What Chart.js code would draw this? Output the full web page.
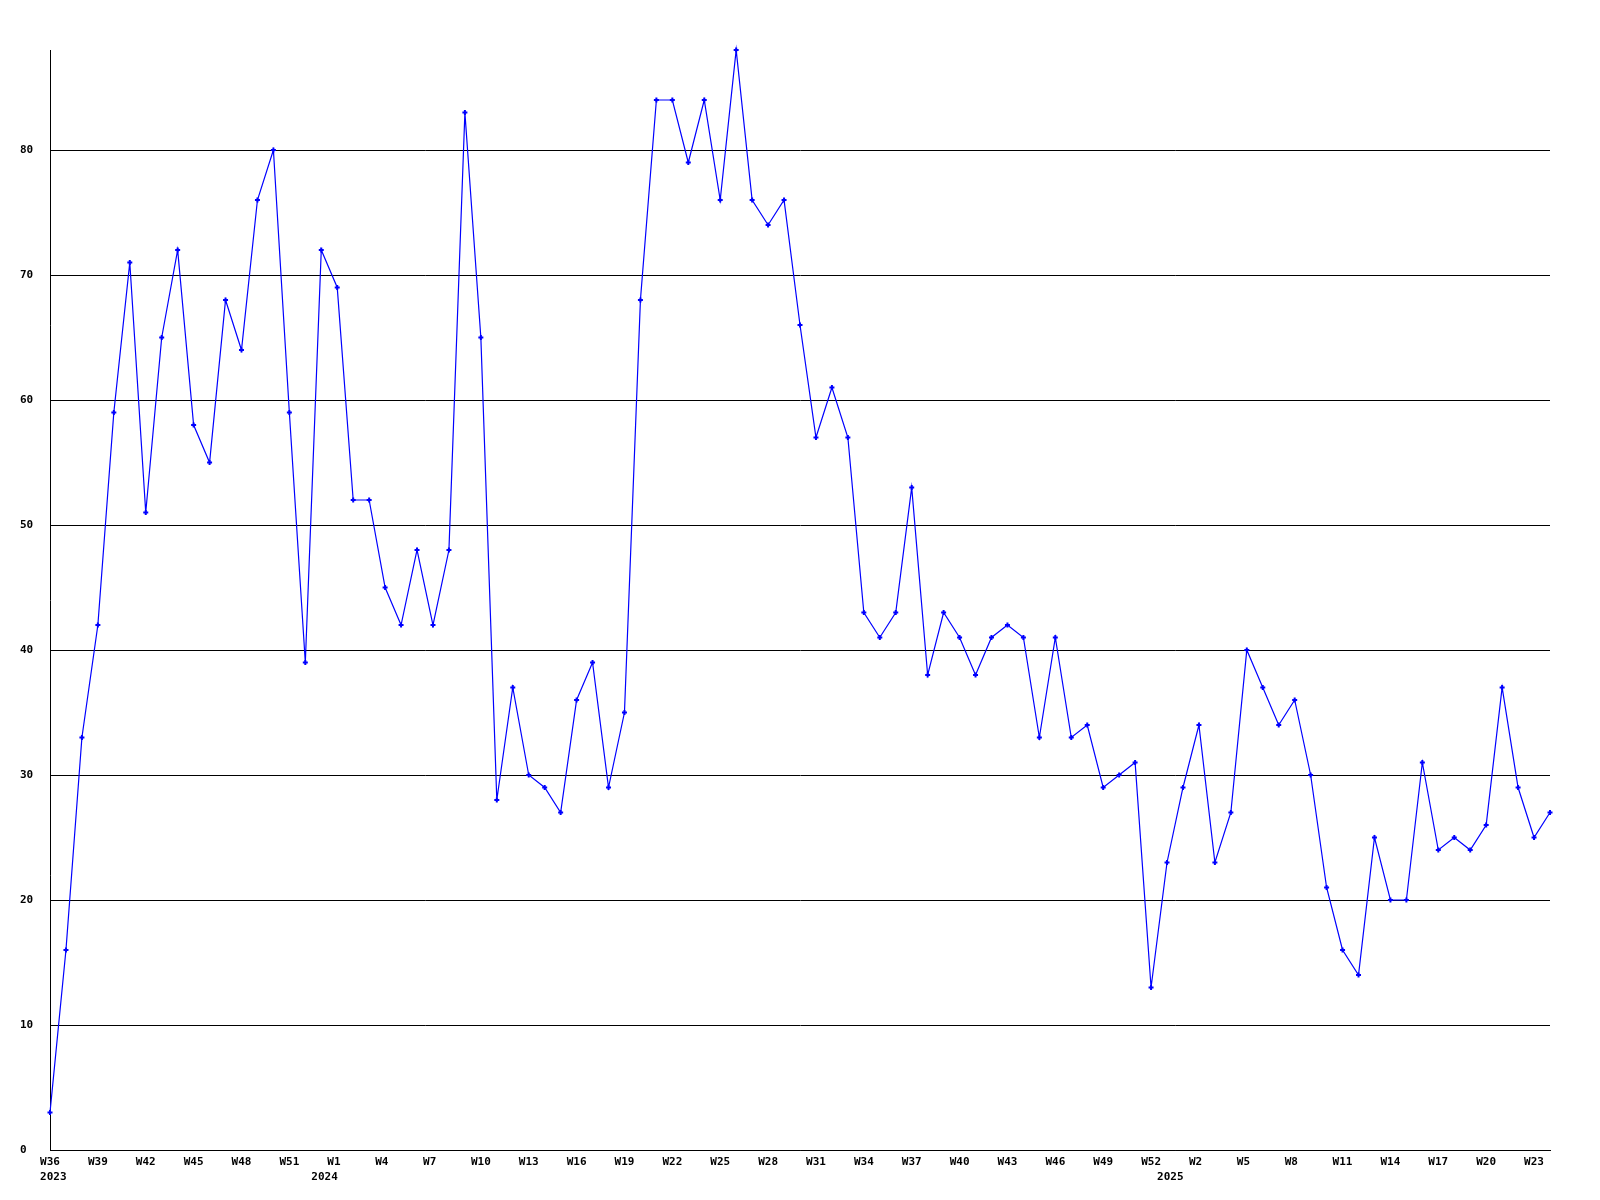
<!DOCTYPE html>
<html>
<head>
<meta charset="utf-8">
<title>Weekly count</title>
<script src="https://cdn.jsdelivr.net/npm/chart.js@4.4.1/dist/chart.umd.min.js"></script>
<style>
  body { margin: 0; background: #fff; }
  canvas { display: block; }
</style>
</head>
<body>
<canvas id="week_chart" width="1600" height="1200"></canvas>
<script>
// one entry per week, W0 = partial first week of the year
var WEEKS = [
  "W36", "W37", "W38", "W39", "W40", "W41", "W42", "W43", "W44", "W45",
  "W46", "W47", "W48", "W49", "W50", "W51", "W52",
  "W0", "W1", "W2", "W3", "W4", "W5", "W6", "W7", "W8", "W9",
  "W10", "W11", "W12", "W13", "W14", "W15", "W16", "W17", "W18", "W19",
  "W20", "W21", "W22", "W23", "W24", "W25", "W26", "W27", "W28", "W29",
  "W30", "W31", "W32", "W33", "W34", "W35", "W36", "W37", "W38", "W39",
  "W40", "W41", "W42", "W43", "W44", "W45", "W46", "W47", "W48", "W49",
  "W50", "W51", "W52",
  "W0", "W1", "W2", "W3", "W4", "W5", "W6", "W7", "W8", "W9",
  "W10", "W11", "W12", "W13", "W14", "W15", "W16", "W17", "W18", "W19",
  "W20", "W21", "W22", "W23", "W24"
];

// index of the first week of each year, and the year shown under it
var YEAR_START = [0, 17, 70];
var YEAR_NAMES = ["2023", "2024", "2025"];

var COUNTS = [
  3, 16, 33, 42, 59, 71, 51, 65, 72, 58,
  55, 68, 64, 76, 80, 59, 39, 72, 69, 52,
  52, 45, 42, 48, 42, 48, 83, 65, 28, 37,
  30, 29, 27, 36, 39, 29, 35, 68, 84, 84,
  79, 84, 76, 88, 76, 74, 76, 66, 57, 61,
  57, 43, 41, 43, 53, 38, 43, 41, 38, 41,
  42, 41, 33, 41, 33, 34, 29, 30, 31, 13,
  23, 29, 34, 23, 27, 40, 37, 34, 36, 30,
  21, 16, 14, 25, 20, 20, 31, 24, 25, 24,
  26, 37, 29, 25, 27
];

var Y_MAX = 88;
var Y_STEP = 10;
var LABEL_EVERY = 3;

const label_font = { family: "'DejaVu Sans Mono', monospace", size: 11, weight: "bold", lineHeight: 1.32 };

function weekTickLabel(index) {
  var lines = [];
  if (index % LABEL_EVERY == 0) {
    var w = WEEKS[index];
    // pad to 3 chars so the W sits at the same spot left of the tick
    while (w.length < 3) w = w + " ";
    lines.push(w);
  } else {
    lines.push("");
  }
  const y = YEAR_START.indexOf(index);
  if (y >= 0) {
    lines.push(" " + YEAR_NAMES[y]);
  }
  return lines.length == 1 ? lines[0] : lines;
}

const ctx = document.getElementById("week_chart");

const chart_data = {
  labels: WEEKS,
  datasets: [{
    data: COUNTS,
    borderColor: "#0000ff",
    backgroundColor: "#0000ff",
    borderWidth: 1.2,
    tension: 0,
    clip: false,
    pointStyle: "cross",
    pointRadius: 2.5,
    pointBorderWidth: 2,
    pointHoverRadius: 2.5
  }]
};

const options = {
  responsive: false,
  animation: false,
  devicePixelRatio: 1,
  layout: { padding: { top: 50, right: 50, bottom: 0, left: 20 } },
  plugins: {
    legend: { display: false },
    tooltip: { enabled: false }
  },
  scales: {
    x: {
      type: "category",
      offset: false,
      grid: { display: false, drawTicks: false },
      border: { display: true, color: "#000000", width: 1 },
      ticks: {
        autoSkip: false,
        maxRotation: 0,
        minRotation: 0,
        padding: 5,
        color: "#000000",
        font: label_font,
        callback: function (value, index) {
          return weekTickLabel(index);
        }
      },
      afterFit: function (scale) { scale.height = 50; }
    },
    y: {
      min: 0,
      max: Y_MAX,
      grid: { color: "#000000", lineWidth: 1, drawTicks: false },
      border: { display: true, color: "#000000", width: 1 },
      ticks: {
        stepSize: Y_STEP,
        includeBounds: false,
        crossAlign: "far",
        color: "#000000",
        font: label_font
      },
      afterFit: function (scale) { scale.width = 30; }
    }
  }
};

const week_chart = new Chart(ctx, {
  type: "line",
  data: chart_data,
  options: options
});
</script>
</body>
</html>
